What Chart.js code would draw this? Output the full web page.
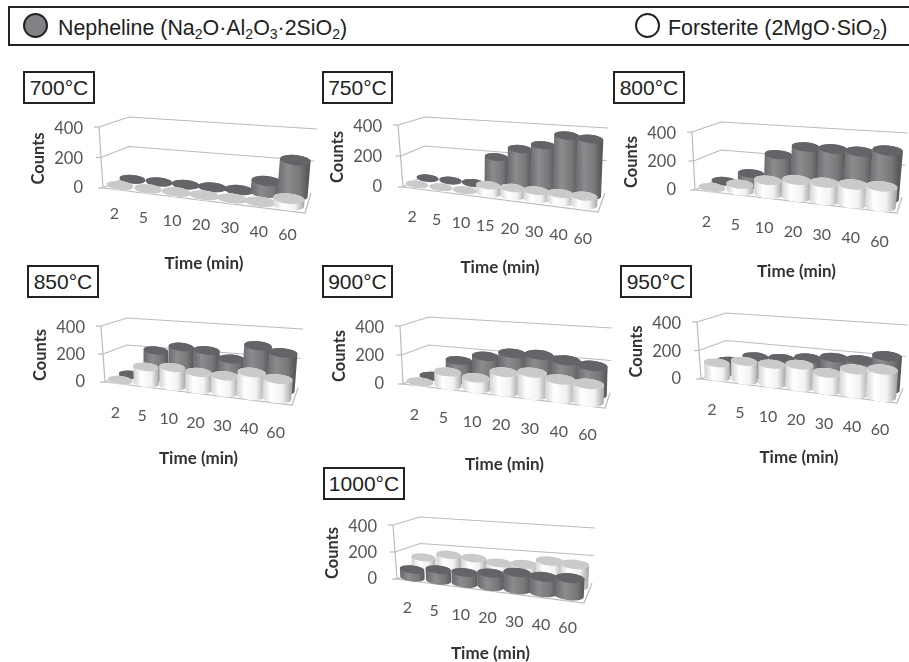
<!DOCTYPE html>
<html>
<head>
<meta charset="utf-8">
<title>Nepheline and forsterite counts</title>
<script src="https://cdn.jsdelivr.net/npm/chart.js@4"></script>
<style>
  html, body { margin: 0; padding: 0; background: #fff; }
  #page { position: relative; width: 909px; height: 662px; overflow: hidden; font-family: Arial, "Liberation Sans", sans-serif; color: #222; }
  #page canvas { position: absolute; filter: blur(.4px); }
  .legend-bar { position: absolute; left: 8px; top: 6px; width: 905px; height: 36px; border: 2px solid #222; }
  .dot { position: absolute; top: 5px; width: 21px; height: 21px; border: 2px solid #222; border-radius: 50%; }
  .legend-text { position: absolute; top: 8px; font-size: 21.4px; line-height: 24px; white-space: nowrap; }
  .legend-text sub { font-size: 14px; line-height: 0; vertical-align: -4px; }
  .temp { position: absolute; height: 29px; border: 2px solid #222; font-size: 21px; line-height: 29px; text-align: center; background: #fff; }
</style>
</head>
<body>
<div id="page">
  <div class="legend-bar">
    <div class="dot" style="left: 13px; background: #808285;"></div>
    <div class="legend-text" style="left: 48px;">Nepheline (Na<sub>2</sub>O·Al<sub>2</sub>O<sub>3</sub>·2SiO<sub>2</sub>)</div>
    <div class="dot" style="left: 625px; background: #fff;"></div>
    <div class="legend-text" style="left: 658px;">Forsterite (2MgO·SiO<sub>2</sub>)</div>
  </div>
</div>

<script>
// times on the x axis, 750C has the extra 15 min run
const times = ['2', '5', '10', '20', '30', '40', '60'];
const times750 = ['2', '5', '10', '15', '20', '30', '40', '60'];
const countTicks = [0, 200, 400];

// values
const nepheline700 = [3, 3, 3, 3, 3, 75, 220];
const forsterite700 = [2, 2, 2, 2, 2, 2, 40];
const nepheline750 = [3, 3, 3, 185, 250, 285, 355, 345];
const forsterite750 = [2, 2, 2, 50, 50, 50, 50, 50];
const nepheline800 = [3, 75, 220, 285, 285, 280, 300];
const forsterite800 = [2, 45, 90, 110, 110, 115, 120];
const nepheline850 = [3, 195, 235, 225, 180, 285, 250];
const forsterite850 = [2, 115, 130, 115, 110, 150, 125];
const nepheline900 = [3, 130, 175, 210, 215, 195, 175];
const forsterite900 = [2, 90, 70, 125, 140, 115, 105];
const nepheline950 = [75, 125, 130, 150, 170, 170, 210];
const forsterite950 = [100, 130, 130, 145, 110, 150, 165];
const nepheline1000 = [60, 80, 80, 95, 120, 110, 120];
const forsterite1000 = [115, 150, 140, 120, 125, 165, 155];

const NEPHELINE_DEPTH = 0.78;
const FORSTERITE_DEPTH = 0.28;

// fl/fr/bl/br are floor corners, tfl/tbl/tbr the tops of the walls (page px)
const panels = [
  { name: '700°C', tag: [23, 71, 68], labels: times, nepheline: nepheline700, forsterite: forsterite700, titleY: 263, labelDrop: 24,
    fl: [103, 188], fr: [305, 213], bl: [129, 176], br: [311, 193], tfl: [99, 127], tbl: [129, 117], tbr: [317, 129] },
  { name: '750°C', tag: [322, 71, 67], labels: times750, nepheline: nepheline750, forsterite: forsterite750, titleY: 267, labelDrop: 28,
    fl: [403, 187], fr: [598, 212], bl: [425, 175], br: [605, 193], tfl: [398, 125], tbl: [425, 117], tbr: [608, 128] },
  { name: '800°C', tag: [613, 71, 68], labels: times, nepheline: nepheline800, forsterite: forsterite800, titleY: 271, labelDrop: 30,
    fl: [695, 190], fr: [897, 213], bl: [721, 178], br: [902, 197], tfl: [692, 132], tbl: [721, 122], tbr: [908, 133] },
  { name: '850°C', tag: [27, 265, 68], labels: times, nepheline: nepheline850, forsterite: forsterite850, titleY: 458, labelDrop: 29,
    fl: [105, 382], fr: [292, 405], bl: [127, 372], br: [298, 388], tfl: [101, 326], tbl: [127, 318], tbr: [303, 329] },
  { name: '900°C', tag: [322, 265, 67], labels: times, nepheline: nepheline900, forsterite: forsterite900, titleY: 464, labelDrop: 29,
    fl: [403, 384], fr: [605, 408], bl: [429, 373], br: [610, 393], tfl: [400, 326], tbl: [429, 317], tbr: [612, 328] },
  { name: '950°C', tag: [620, 265, 68], labels: times, nepheline: nepheline950, forsterite: forsterite950, titleY: 457, labelDrop: 29,
    fl: [701, 379], fr: [897, 403], bl: [726, 368], br: [903, 388], tfl: [697, 322], tbl: [726, 313], tbr: [908, 325] },
  { name: '1000°C', tag: [323, 467, 78], labels: times, nepheline: nepheline1000, forsterite: forsterite1000, titleY: 653, labelDrop: 27, nephelineFront: true,
    fl: [397, 579], fr: [584, 603], bl: [420, 570], br: [592, 583], tfl: [393, 525], tbl: [420, 517], tbr: [595, 528] }
];

const Y_AXIS_WIDTH = 70;
const PAD_TOP = 16;
const PAD_RIGHT = 24;
const FRAME_COLOR = '#b9bcbc';
const LABEL_FONT = 'Lato';

function mix (a, b, t) {
  return [a[0] + (b[0] - a[0]) * t, a[1] + (b[1] - a[1]) * t];
}

// u along time, v into the depth, h up the counts axis
function project (p, u, v, h) {
  const tfr = [p.fr[0] + (p.tbr[0] - p.br[0]) * 1.08, p.fr[1] + (p.tbr[1] - p.br[1]) * 1.08];
  const floor = mix(mix(p.fl, p.fr, u), mix(p.bl, p.br, u), v);
  const top = mix(mix(p.tfl, tfr, u), mix(p.tbl, p.tbr, u), v);
  return mix(floor, top, h);
}

function drawFrame (ctx, p) {
  const line = function (pts) {
    ctx.beginPath();
    pts.forEach(function (q, i) {
      if (i === 0) ctx.moveTo(q[0], q[1]);
      else ctx.lineTo(q[0], q[1]);
    });
    ctx.stroke();
  };
  ctx.strokeStyle = FRAME_COLOR;
  ctx.lineWidth = 1.2;
  [0.5, 1].forEach(function (h) {
    line([project(p, 0, 0, h), project(p, 0, 1, h), project(p, 1, 1, h)]);
  });
  line([project(p, 0, 1, 0), project(p, 0, 0, 0), project(p, 1, 0, 0), project(p, 1, 1, 0)]);
  line([project(p, 0, 0, 0), project(p, 0, 0, 1)]);
  [0, 0.5, 1].forEach(function (h) {
    const q = project(p, 0, 0, h);
    line([[q[0] - 5, q[1]], q]);
  });
}

function drawCylinder (ctx, base, top, rx, tilt, dark) {
  const ry = rx * 0.33;
  const grad = ctx.createLinearGradient(base[0] - rx, 0, base[0] + rx, 0);
  if (dark) {
    grad.addColorStop(0, '#68696c');
    grad.addColorStop(0.35, '#8b8c8e');
    grad.addColorStop(0.75, '#77787a');
    grad.addColorStop(1, '#58595b');
  } else {
    grad.addColorStop(0, '#d2d2d2');
    grad.addColorStop(0.3, '#ffffff');
    grad.addColorStop(0.7, '#f2f2f2');
    grad.addColorStop(1, '#a9a9a9');
  }
  ctx.fillStyle = grad;
  ctx.beginPath();
  ctx.ellipse(base[0], base[1], rx, ry, tilt, 0, Math.PI);
  ctx.ellipse(top[0], top[1], rx, ry, tilt, Math.PI, Math.PI * 2);
  ctx.closePath();
  ctx.fill();

  ctx.fillStyle = dark ? '#636467' : '#c9caca';
  ctx.beginPath();
  ctx.ellipse(top[0], top[1], rx, ry, tilt, 0, Math.PI * 2);
  ctx.fill();
}

const cylinderPlugin = {
  id: 'cylinders',
  beforeDatasetsDraw: function (chart, args, opts) {
    const ctx = chart.ctx;
    ctx.save();
    ctx.translate(-opts.originX, -opts.originY);
    drawFrame(ctx, opts.panel);
    ctx.restore();
  },
  afterDatasetsDraw: function (chart, args, opts) {
    const ctx = chart.ctx;
    const area = chart.chartArea;
    const p = opts.panel;
    const tilt = Math.atan2(p.fr[1] - p.fl[1], p.fr[0] - p.fl[0]) * 0.8;
    ctx.save();
    ctx.translate(-opts.originX, -opts.originY);
    // dataset 0 is the back row
    chart.data.datasets.forEach(function (ds, d) {
      const v = ds.depth;
      chart.getDatasetMeta(d).data.forEach(function (bar) {
        const u = (bar.x - area.left) / area.width;
        const h = (area.bottom - bar.y) / area.height;
        const rx = bar.width / 2 * (0.88 + 0.2 * u) * (1 - 0.05 * v);
        // the rows sit a little left of the category centres
        const shifted = u - 0.022;
        drawCylinder(ctx, project(p, shifted, v, 0), project(p, shifted, v, h), rx, tilt, ds.dark);
      });
    });
    // time labels step down along the front edge of the floor
    const xScale = chart.scales.x;
    ctx.fillStyle = '#555';
    ctx.font = '16px ' + LABEL_FONT;
    ctx.textAlign = 'center';
    ctx.textBaseline = 'middle';
    xScale.ticks.forEach(function (tick, i) {
      const u = (xScale.getPixelForTick(i) - area.left) / area.width;
      const q = project(p, u, 0, 0);
      ctx.fillText(xScale.getLabelForValue(tick.value), q[0] - 3, q[1] + p.labelDrop);
    });
    ctx.restore();
  }
};

function makePanel (p) {
  const page = document.getElementById('page');

  const tag = document.createElement('div');
  tag.className = 'temp';
  tag.textContent = p.name;
  tag.style.left = p.tag[0] + 'px';
  tag.style.top = p.tag[1] + 'px';
  tag.style.width = p.tag[2] + 'px';
  page.appendChild(tag);

  const areaLeft = p.tfl[0];
  const areaRight = p.fr[0] + 4;
  const areaTop = p.tfl[1];
  const areaBottom = p.fl[1];
  const left = areaLeft - Y_AXIS_WIDTH;
  const top = areaTop - PAD_TOP;
  const width = areaRight + PAD_RIGHT - left;
  const height = p.titleY + 11 - top;

  const canvas = document.createElement('canvas');
  canvas.width = width;
  canvas.height = height;
  canvas.style.left = left + 'px';
  canvas.style.top = top + 'px';
  canvas.style.width = width + 'px';
  canvas.style.height = height + 'px';
  page.appendChild(canvas);

  const nepheline = { label: 'Nepheline', data: p.nepheline, depth: p.nephelineFront ? FORSTERITE_DEPTH : NEPHELINE_DEPTH, dark: true, backgroundColor: 'transparent' };
  const forsterite = { label: 'Forsterite', data: p.forsterite, depth: p.nephelineFront ? NEPHELINE_DEPTH : FORSTERITE_DEPTH, dark: false, backgroundColor: 'transparent' };

  new Chart(canvas, {
    type: 'bar',
    data: {
      labels: p.labels,
      datasets: p.nephelineFront ? [forsterite, nepheline] : [nepheline, forsterite]
    },
    plugins: [cylinderPlugin],
    options: {
      responsive: false,
      animation: false,
      layout: { autoPadding: false, padding: { top: PAD_TOP, right: PAD_RIGHT, left: 0, bottom: 0 } },
      datasets: { bar: { grouped: false, barPercentage: 1, categoryPercentage: 1 } },
      plugins: {
        legend: { display: false },
        tooltip: { enabled: false },
        cylinders: { panel: p, originX: left, originY: top }
      },
      scales: {
        x: {
          grid: { display: false },
          border: { display: false },
          ticks: { display: false },
          title: { display: true, text: 'Time (min)', color: '#333', padding: 0, font: { family: LABEL_FONT, size: 17, weight: 'bold' } },
          afterFit: function (scale) { scale.height = height - PAD_TOP - (areaBottom - areaTop); }
        },
        y: {
          min: 0,
          max: 400,
          grid: { display: false },
          border: { display: false },
          afterBuildTicks: function (scale) { scale.ticks = countTicks.map(function (value) { return { value: value }; }); },
          ticks: { color: '#555', padding: 8, font: { family: LABEL_FONT, size: 16.5 } },
          title: { display: true, text: 'Counts', color: '#333', padding: 0, font: { family: LABEL_FONT, size: 16.5, weight: 'bold' } },
          afterFit: function (scale) { scale.width = Y_AXIS_WIDTH; }
        }
      }
    }
  });
}

panels.forEach(makePanel);
</script>
</body>
</html>
